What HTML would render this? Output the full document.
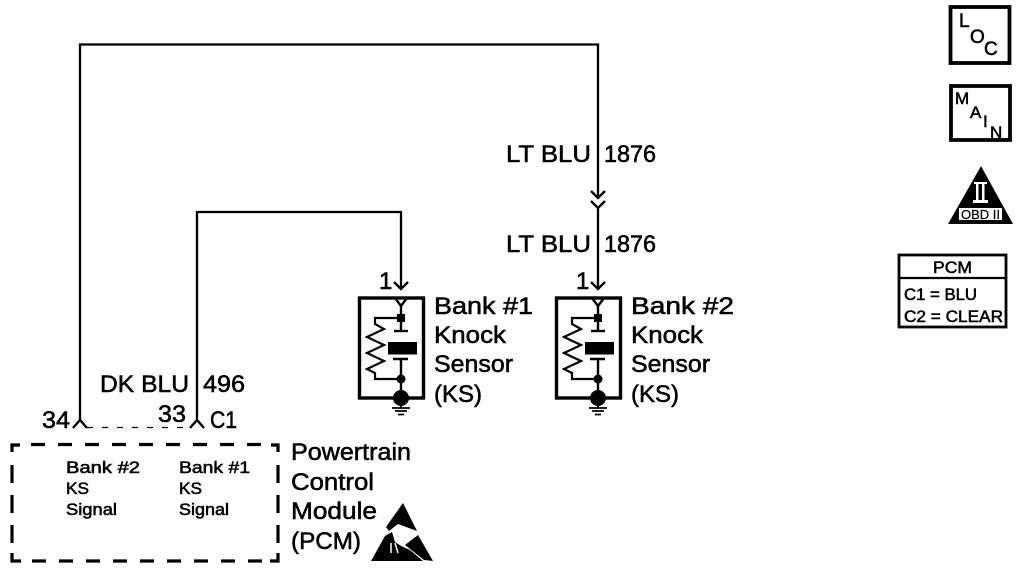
<!DOCTYPE html>
<html><head><meta charset="utf-8"><style>
html,body{margin:0;padding:0;background:#fff;width:1024px;height:570px;overflow:hidden}
svg{display:block}
text{font-family:"Liberation Sans",sans-serif;fill:#000;stroke:#000;stroke-width:.55px}
</style></head><body>
<svg width="1024" height="570" viewBox="0 0 1024 570" xmlns="http://www.w3.org/2000/svg">
<defs>
<g id="sensor">
<rect x="359.500" y="298" width="64" height="100" fill="none" stroke="#000" stroke-width="3.400"/>
<path d="M395 298L401 306L407 298M401 306V318M401 318V331" fill="none" stroke="#000" stroke-width="2.400"/>
<rect x="397" y="314" width="8" height="8"/>
<path d="M401 318H375V324L384 329L367 337L384 345L367 353L384 361L367 369L375 373V379H401" fill="none" stroke="#000" stroke-width="2.200"/>
<path d="M394 331H408" stroke="#000" stroke-width="2.400"/>
<rect x="388" y="342" width="29" height="12.500"/>
<path d="M393 359H408M401 359V398" fill="none" stroke="#000" stroke-width="2.400"/>
<circle cx="401" cy="379" r="4.500"/>
<circle cx="401" cy="398" r="8"/>
<path d="M401 404V408M392 408H410M395 411H407M398 414.500H404" fill="none" stroke="#000" stroke-width="1.800"/>
</g>
</defs>

<!-- wires -->
<path d="M80 420V44.500H598V198M591 191L598 198L605 191" fill="none" stroke="#000" stroke-width="2.300"/>
<path d="M591 201L598 208L605 201M598 208V289M591 282L598 289L605 282" fill="none" stroke="#000" stroke-width="2.300"/>
<path d="M197 420V212H401V289M394 282L401 289L408 282" fill="none" stroke="#000" stroke-width="2.300"/>
<path d="M73 428L80 420L87 428M190 428L197 420L204 428" fill="none" stroke="#000" stroke-width="2.400"/>
<path d="M87 427.500H190" fill="none" stroke="#000" stroke-width="1.300" stroke-dasharray="6 9"/>

<use href="#sensor"/>
<use href="#sensor" transform="translate(197,0)"/>

<!-- wire labels -->
<g font-size="24">
<text x="506" y="162" textLength="85" lengthAdjust="spacingAndGlyphs">LT BLU</text>
<text x="604" y="162" textLength="52" lengthAdjust="spacingAndGlyphs">1876</text>
<text x="506" y="252" textLength="85" lengthAdjust="spacingAndGlyphs">LT BLU</text>
<text x="604" y="252" textLength="52" lengthAdjust="spacingAndGlyphs">1876</text>
<text x="100" y="392" textLength="89" lengthAdjust="spacingAndGlyphs">DK BLU</text>
<text x="203" y="392" textLength="42" lengthAdjust="spacingAndGlyphs">496</text>
<text x="42" y="428" textLength="28" lengthAdjust="spacingAndGlyphs">34</text>
<text x="158" y="422" textLength="28" lengthAdjust="spacingAndGlyphs">33</text>
<text x="210" y="428" textLength="27" lengthAdjust="spacingAndGlyphs">C1</text>
<text x="379" y="289">1</text>
<text x="576" y="289">1</text>
<!-- sensor 1 -->
<text x="434" y="314" textLength="99" lengthAdjust="spacingAndGlyphs">Bank #1</text>
<text x="434" y="343" textLength="72" lengthAdjust="spacingAndGlyphs">Knock</text>
<text x="434" y="372" textLength="79" lengthAdjust="spacingAndGlyphs">Sensor</text>
<text x="434" y="402" textLength="48" lengthAdjust="spacingAndGlyphs">(KS)</text>
<!-- sensor 2 -->
<text x="631" y="314" textLength="103" lengthAdjust="spacingAndGlyphs">Bank #2</text>
<text x="631" y="343" textLength="72" lengthAdjust="spacingAndGlyphs">Knock</text>
<text x="631" y="372" textLength="79" lengthAdjust="spacingAndGlyphs">Sensor</text>
<text x="631" y="402" textLength="48" lengthAdjust="spacingAndGlyphs">(KS)</text>
<!-- PCM -->
<text x="291" y="460" textLength="120" lengthAdjust="spacingAndGlyphs">Powertrain</text>
<text x="291" y="490" textLength="83" lengthAdjust="spacingAndGlyphs">Control</text>
<text x="291" y="519" textLength="86" lengthAdjust="spacingAndGlyphs">Module</text>
<text x="291" y="549" textLength="70" lengthAdjust="spacingAndGlyphs">(PCM)</text>
</g>

<!-- PCM dashed box -->
<g fill="none" stroke="#000" stroke-width="3.200">
<path d="M12 452V445H20M278 452V445H271"/>
<path d="M31 444.500H268" stroke-dasharray="14 13"/>
<path d="M12 553V561H21M278 553V561H270"/>
<path d="M32 561H268" stroke-dasharray="14 13"/>
<path d="M12 465V548" stroke-dasharray="18 12"/>
<path d="M278 465V548" stroke-dasharray="18 12"/>
</g>
<g font-size="16.500">
<text x="66" y="473" textLength="74" lengthAdjust="spacingAndGlyphs">Bank #2</text>
<text x="66" y="494" textLength="23" lengthAdjust="spacingAndGlyphs">KS</text>
<text x="66" y="515" textLength="51" lengthAdjust="spacingAndGlyphs">Signal</text>
<text x="179" y="473" textLength="71" lengthAdjust="spacingAndGlyphs">Bank #1</text>
<text x="179" y="494" textLength="23" lengthAdjust="spacingAndGlyphs">KS</text>
<text x="179" y="515" textLength="50" lengthAdjust="spacingAndGlyphs">Signal</text>
</g>

<!-- ESD symbol -->
<path d="M403 503L417 531L398 524L389 531L386 527Z"/>
<path d="M371 561L385 536L392 532L395 542L401 546L410 550L423 561Z"/>
<path d="M418 535L433 561L424 560L405 545Z"/>
<path d="M391 543V553M395 543L398 553" stroke="#fff" stroke-width="1.500" fill="none"/>

<!-- LOC -->
<rect x="950.500" y="7" width="59" height="56" fill="none" stroke="#000" stroke-width="3.800"/>
<g font-size="19">
<text x="959" y="27">L</text>
<text x="970" y="43">O</text>
<text x="984" y="55">C</text>
</g>
<!-- MAIN -->
<rect x="951" y="86" width="59" height="54" fill="none" stroke="#000" stroke-width="3.800"/>
<g font-size="17">
<text x="955" y="104">M</text>
<text x="970" y="118">A</text>
<text x="983" y="127">I</text>
<text x="990" y="138">N</text>
</g>
<!-- OBD II -->
<path d="M981 166L1013 224H948Z"/>
<rect x="959" y="208" width="43" height="12" fill="#fff"/>
<rect x="974" y="182" width="13" height="2" fill="#fff"/>
<rect x="976" y="184" width="2.500" height="16" fill="#fff"/>
<rect x="982" y="184" width="2.500" height="16" fill="#fff"/>
<rect x="973" y="200" width="15" height="3" fill="#fff"/>
<text x="961" y="219" font-size="12.500" textLength="39" lengthAdjust="spacingAndGlyphs" style="stroke-width:.2px">OBD II</text>

<!-- PCM key -->
<rect x="899" y="255" width="107" height="72" fill="none" stroke="#000" stroke-width="2.800"/>
<path d="M899 278H1006" stroke="#000" stroke-width="2.200"/>
<g font-size="17">
<text x="933" y="273" textLength="39" lengthAdjust="spacingAndGlyphs">PCM</text>
<text x="904" y="300" textLength="73" lengthAdjust="spacingAndGlyphs">C1 = BLU</text>
<text x="904" y="322" textLength="99" lengthAdjust="spacingAndGlyphs">C2 = CLEAR</text>
</g>
</svg>
</body></html>
